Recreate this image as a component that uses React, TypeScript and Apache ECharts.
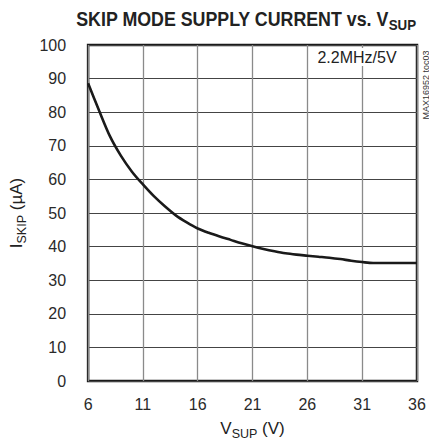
import React, { useEffect, useRef } from "react";
import * as echarts from "echarts";

const vSup = [6, 7, 8, 9, 10, 11, 12, 13, 14, 15, 16, 17, 18, 19, 20, 21, 22, 23, 24, 25, 26, 27, 28, 29, 30, 31, 32, 33, 34, 35, 36];
const iSkip = [88.6, 80.5, 72.8, 67, 62.3, 58.5, 55, 52, 49.3, 47.2, 45.4, 44.1, 43, 42, 41, 40.1, 39.3, 38.6, 38, 37.6, 37.3, 37, 36.7, 36.3, 35.8, 35.4, 35.1, 35.1, 35.1, 35.1, 35.1];

const titleText = "SKIP MODE SUPPLY CURRENT vs. V";
const titleSub = "SUP";
const xName = ["V", "SUP", " (V)"];
const yName = ["I", "SKIP", " (µA)"];
const condition = "2.2MHz/5V";
const docId = "MAX16952 toc03";

const FONT = '"Liberation Sans", Arial, sans-serif';

export default function App() {
  const ref = useRef<HTMLDivElement>(null);
  useEffect(() => {
    const chart = echarts.init(ref.current!, null, { renderer: "svg" });
    const nameRich = {
      m: { fontSize: 17, lineHeight: 24, verticalAlign: "middle", color: "#222", fontFamily: FONT },
      s: { fontSize: 12.5, verticalAlign: "bottom", color: "#222", fontFamily: FONT },
    };
    chart.setOption({
      animation: false,
      backgroundColor: "#fff",
      textStyle: { fontFamily: FONT },
      grid: {
        left: 81,
        top: 45,
        width: 336,
        height: 336,
        show: true,
        borderColor: "#1a1a1a",
        borderWidth: 2.5,
        backgroundColor: "transparent",
      },
      xAxis: {
        type: "value",
        min: 6,
        max: 36,
        interval: 5,
        axisLine: { show: false },
        axisTick: { show: false },
        splitLine: { show: true, lineStyle: { color: "#8a8a8a", width: 1.3 } },
        axisLabel: { color: "#2a2a2a", fontSize: 16, margin: 15, fontFamily: FONT },
        name: `{m|${xName[0]}}{s|${xName[1]}}{m|${xName[2]}}`,
        nameLocation: "middle",
        nameGap: 35,
        nameTextStyle: { rich: nameRich },
      },
      yAxis: {
        type: "value",
        min: 0,
        max: 100,
        interval: 10,
        axisLine: { show: false },
        axisTick: { show: false },
        splitLine: { show: true, lineStyle: { color: "#444", width: 1 } },
        axisLabel: { color: "#2a2a2a", fontSize: 16, margin: 22, fontFamily: FONT },
        name: `{m|${yName[0]}}{s|${yName[1]}}{m|${yName[2]}}`,
        nameLocation: "middle",
        nameRotate: 90,
        nameGap: 51,
        nameTextStyle: { rich: nameRich },
      },
      series: [
        {
          type: "line",
          data: vSup.map((x, i) => [x, iSkip[i]]),
          smooth: 0.3,
          showSymbol: false,
          lineStyle: { color: "#1a1a1a", width: 2.6 },
        },
      ],
      graphic: [
        {
          type: "text",
          x: 246,
          y: 19,
          scaleX: 0.89,
          style: {
            text: `{t|${titleText}}{ts|${titleSub}}`,
            align: "center",
            verticalAlign: "middle",
            rich: {
              t: { fontSize: 20, fontWeight: "bold", lineHeight: 26, verticalAlign: "middle", fill: "#222", fontFamily: FONT },
              ts: { fontSize: 15, fontWeight: "bold", verticalAlign: "bottom", fill: "#222", fontFamily: FONT },
            },
          },
        },
        {
          type: "text",
          x: 357,
          y: 57,
          z: 10,
          style: {
            text: condition,
            align: "center",
            verticalAlign: "middle",
            fontSize: 16,
            fontFamily: FONT,
            fill: "#222",
            backgroundColor: "#fff",
            padding: [1, 4],
          },
        },
        {
          type: "text",
          x: 425.5,
          y: 85,
          rotation: Math.PI / 2,
          style: {
            text: docId,
            align: "center",
            verticalAlign: "middle",
            fontSize: 9,
            fontFamily: FONT,
            fill: "#333",
          },
        },
      ],
    });
    return () => chart.dispose();
  }, []);
  return <div ref={ref} style={{ position: "fixed", left: 0, top: 0, width: 429, height: 447 }} />;
}
